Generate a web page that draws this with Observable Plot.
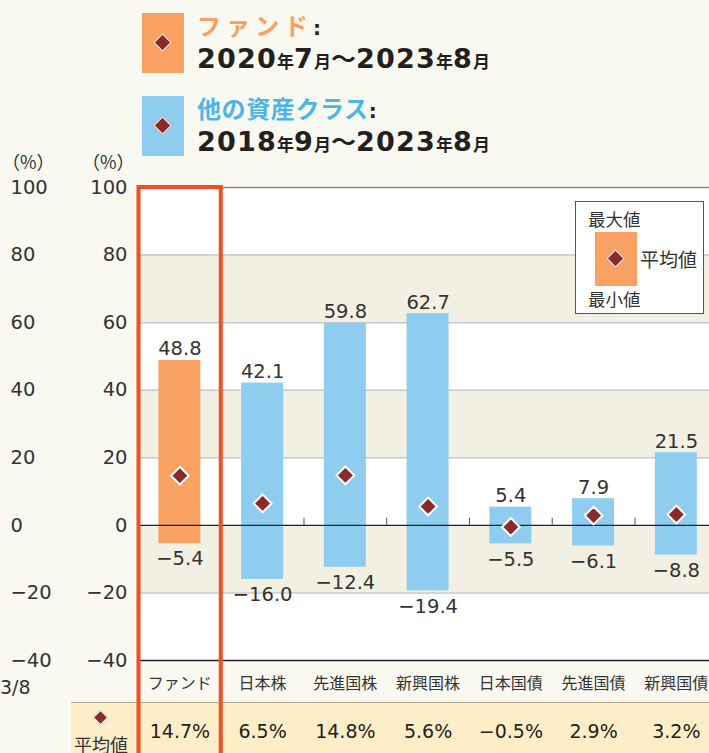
<!DOCTYPE html>
<html><head><meta charset="utf-8">
<script src="https://cdn.jsdelivr.net/npm/d3@7"></script>
<script src="https://cdn.jsdelivr.net/npm/@observablehq/plot@0.6"></script>
<style>
html,body{margin:0;padding:0;background:#f9f8f1;overflow:hidden;}
#wrap{position:relative;width:709px;height:753px;font-family:"Noto Sans CJK JP","Noto Sans",sans-serif;color:#231f20;}
.abs{position:absolute;white-space:nowrap;}
.dia{position:absolute;width:11px;height:11px;background:#8b2a2b;border:1.5px solid #fff;transform:rotate(45deg);}
.num{font-family:"DejaVu Sans",sans-serif;}
.big{font-family:"DejaVu Sans",sans-serif;font-size:27px;letter-spacing:1.2px;}
.sm{font-size:17px;}
.tl{font-size:25px;}
#chart{position:absolute;left:0;top:0;}
</style></head>
<body><div id="wrap">
<div class="abs" style="left:71px;top:702px;width:638px;height:51px;background:#fdeec8;border-top:1px solid #b5a88c;"></div>
<div id="chart"></div>

<!-- top legend -->
<div class="abs" style="left:142px;top:13px;width:42px;height:60px;background:#f9a063;"><div class="dia" style="left:13.5px;top:22.5px;"></div></div>
<div class="abs" style="left:197px;top:11px;font-size:24px;line-height:28px;font-weight:700;"><span style="color:#f7a060;letter-spacing:5px">ファンド</span><span class="num" style="font-size:20px">:</span></div>
<div class="abs" style="left:197px;top:41px;font-weight:700;line-height:32px;"><span class="big">2020</span><span class="sm">年</span><span class="big">7</span><span class="sm">月</span><span class="tl">～</span><span class="big">2023</span><span class="sm">年</span><span class="big">8</span><span class="sm">月</span></div>

<div class="abs" style="left:142px;top:96px;width:42px;height:60px;background:#8ecdf0;"><div class="dia" style="left:13.5px;top:22.5px;"></div></div>
<div class="abs" style="left:197px;top:94px;font-size:24px;line-height:28px;font-weight:700;"><span style="color:#4bb6e6;letter-spacing:0.6px">他の資産クラス</span><span class="num" style="font-size:20px">:</span></div>
<div class="abs" style="left:197px;top:124px;font-weight:700;line-height:32px;"><span class="big">2018</span><span class="sm">年</span><span class="big">9</span><span class="sm">月</span><span class="tl">～</span><span class="big">2023</span><span class="sm">年</span><span class="big">8</span><span class="sm">月</span></div>

<!-- axis unit labels -->
<div class="abs" style="left:2px;top:148px;font-size:18px;color:#333;">（%）</div>
<div class="abs" style="left:82px;top:148px;font-size:18px;color:#333;">（%）</div>
<div class="abs num" style="left:0px;top:676px;font-size:19px;color:#333;">3/8</div>

<!-- inset legend -->
<div class="abs" style="left:575px;top:201px;width:127px;height:111px;background:#fff;border:1.5px solid #555;">
  <div class="abs" style="left:12px;top:4px;font-size:17.5px;color:#333;">最大値</div>
  <div class="abs" style="left:19px;top:30px;width:42px;height:54px;background:#f9a063;"><div class="dia" style="left:13.5px;top:19.5px;"></div></div>
  <div class="abs" style="left:64px;top:43px;font-size:19px;color:#333;">平均値</div>
  <div class="abs" style="left:12px;top:84px;font-size:17.5px;color:#333;">最小値</div>
</div>

<!-- bottom row label -->
<div class="dia" style="left:95px;top:712px;width:9px;height:9px;"></div>
<div class="abs" style="left:74px;top:731px;font-size:18px;color:#333;">平均値</div>
</div>
<script>
const categories = ["ファンド","日本株","先進国株","新興国株","日本国債","先進国債","新興国債"];
const maxValues = [48.8, 42.1, 59.8, 62.7, 5.4, 7.9, 21.5];
const minValues = [-5.4, -16.0, -12.4, -19.4, -5.5, -6.1, -8.8];
const avgValues = [14.7, 6.5, 14.8, 5.6, -0.5, 2.9, 3.2];
const yTicks = [100, 80, 60, 40, 20, 0, -20, -40];
const shadedBands = [[80, 60], [40, 20], [0, -20]];
const gridValues = [80, 60, 40, 20, -20];

const data = categories.map((c, i) => ({cat: c, max: maxValues[i], min: minValues[i], avg: avgValues[i], fund: i === 0}));
const bands = shadedBands.map(([a, b]) => ({y1: a, y2: b}));
const fmt = v => (v < 0 ? "\u2212" : "") + Math.abs(v).toFixed(1);
const tickFmt = d => d < 0 ? "\u2212" + Math.abs(d) : String(d);
const step = (717.2 - 138) / categories.length;
const NUM = '"DejaVu Sans",sans-serif';

const plot = Plot.plot({
  width: 709, height: 753,
  marginTop: 187, marginBottom: 93, marginLeft: 138, marginRight: 0,
  style: {background: "transparent", overflow: "hidden", fontFamily: '"Noto Sans CJK JP","Noto Sans",sans-serif', color: "#333"},
  x: {type: "band", domain: categories, range: [138, 717.2], padding: 0, round: false, axis: null},
  y: {domain: [-40, 100], axis: null},
  marks: [
    Plot.frame({fill: "white", stroke: "none"}),
    Plot.rectY(bands, {y1: "y1", y2: "y2", fill: "#f2efe3"}),
    Plot.ruleY(gridValues, {stroke: "#c8c8c8", strokeWidth: 1.5}),
    Plot.ruleY([100], {stroke: "#8a8a8a", strokeWidth: 1.5}),
    Plot.ruleX(categories, {x: d => d, y1: 0, y2: 2.1, dx: -step / 2, stroke: "#555", strokeWidth: 1}),
    Plot.barY(data, {x: "cat", y1: "min", y2: "max", fill: d => d.fund ? "#f9a063" : "#8ecdf0", insetLeft: 20.4, insetRight: 20.4}),
    Plot.ruleY([0], {stroke: "#222", strokeWidth: 1.2}),
    Plot.ruleY([-40], {stroke: "#222", strokeWidth: 1.5}),
    Plot.dot(data, {x: "cat", y: "avg", symbol: "diamond2", r: 8, fill: "#8b2a2b", stroke: "white", strokeWidth: 2}),
    Plot.text(data, {x: "cat", y: "max", text: d => fmt(d.max), lineAnchor: "bottom", dy: -5, fontSize: 19.5, fontFamily: NUM, fill: "#333"}),
    Plot.text(data, {x: "cat", y: "min", text: d => fmt(d.min), lineAnchor: "top", dy: 8, fontSize: 19.5, fontFamily: NUM, fill: "#333"}),
    Plot.axisY(yTicks, {anchor: "left", tickSize: 0, tickPadding: 11, fontSize: 19.5, fontFamily: NUM, color: "#333", label: null, tickFormat: tickFmt}),
    Plot.text(yTicks, {y: d => d, frameAnchor: "left", dx: -128, textAnchor: "start", fontSize: 19.5, fontFamily: NUM, fill: "#333", text: tickFmt}),
    Plot.text(data, {x: "cat", frameAnchor: "bottom", dy: 28, text: "cat", fontSize: 16, fill: "#333", fontWeight: d => d.fund ? 700 : 400}),
    Plot.text(data, {x: "cat", frameAnchor: "bottom", dy: 77, text: d => fmt(d.avg) + "%", fontSize: 19, fontFamily: NUM, fill: "#222", fontWeight: d => d.fund ? 700 : 400}),
    Plot.barY([data[0]], {x: "cat", y1: 100, y2: -70, fill: "none", stroke: "#f04e23", strokeWidth: 4, insetLeft: 0.5, insetRight: 0})
  ]
});
document.getElementById("chart").appendChild(plot);
</script>
</body></html>
